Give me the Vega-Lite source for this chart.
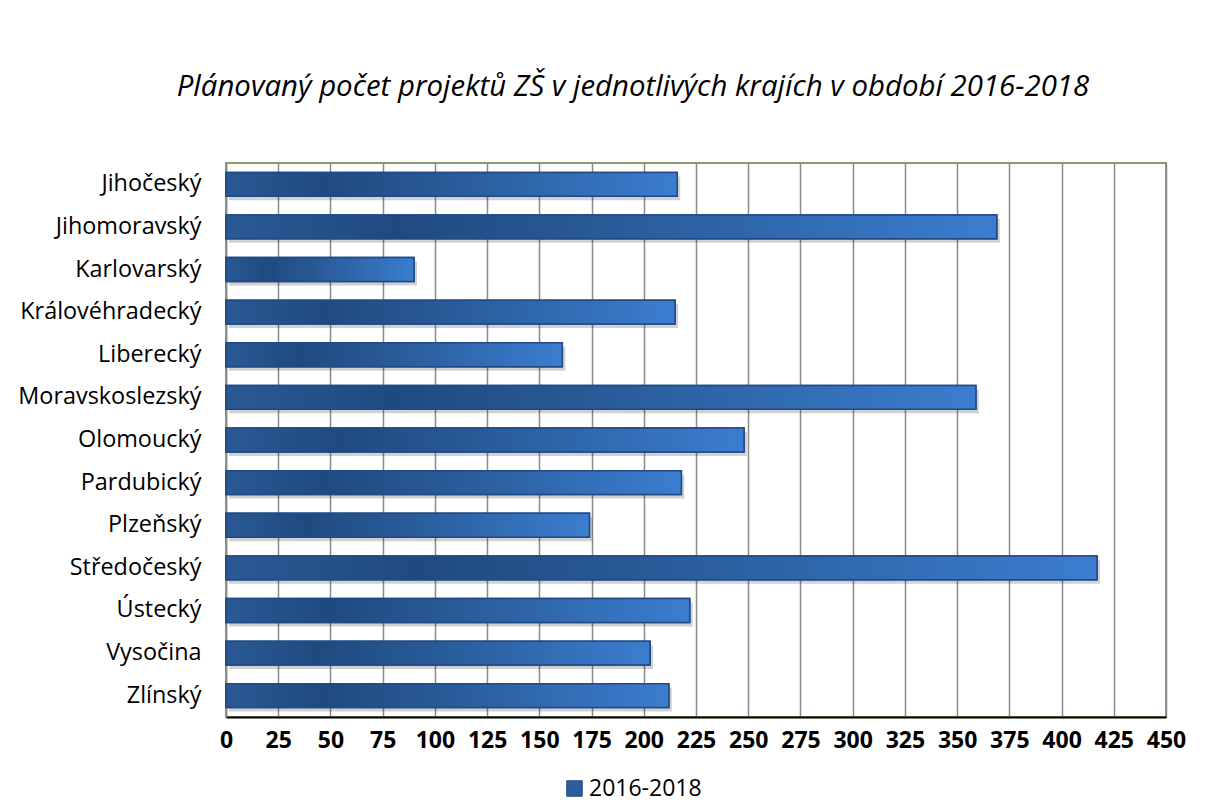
{
  "$schema": "https://vega.github.io/schema/vega-lite/v6.json",
  "autosize": "none",
  "width": 940,
  "height": 554,
  "padding": {"left": 226, "top": 163, "right": 42, "bottom": 85},
  "background": "white",
  "title": {
    "text": "Plánovaný počet projektů ZŠ v jednotlivých krajích v období 2016-2018",
    "font": "Open Sans",
    "fontStyle": "italic",
    "fontWeight": "normal",
    "fontSize": 29.4,
    "color": "#000000",
    "anchor": "middle",
    "dx": -63,
    "offset": 61
  },
  "data": {
    "values": [
      {"kraj": "Jihočeský", "pocet": 216, "obdobi": "2016-2018"},
      {"kraj": "Jihomoravský", "pocet": 369, "obdobi": "2016-2018"},
      {"kraj": "Karlovarský", "pocet": 90, "obdobi": "2016-2018"},
      {"kraj": "Královéhradecký", "pocet": 215, "obdobi": "2016-2018"},
      {"kraj": "Liberecký", "pocet": 161, "obdobi": "2016-2018"},
      {"kraj": "Moravskoslezský", "pocet": 359, "obdobi": "2016-2018"},
      {"kraj": "Olomoucký", "pocet": 248, "obdobi": "2016-2018"},
      {"kraj": "Pardubický", "pocet": 218, "obdobi": "2016-2018"},
      {"kraj": "Plzeňský", "pocet": 174, "obdobi": "2016-2018"},
      {"kraj": "Středočeský", "pocet": 417, "obdobi": "2016-2018"},
      {"kraj": "Ústecký", "pocet": 222, "obdobi": "2016-2018"},
      {"kraj": "Vysočina", "pocet": 203, "obdobi": "2016-2018"},
      {"kraj": "Zlínský", "pocet": 212, "obdobi": "2016-2018"}
    ]
  },
  "encoding": {
    "y": {
      "field": "kraj",
      "type": "nominal",
      "sort": null,
      "scale": {"paddingInner": 0.44, "paddingOuter": 0.22},
      "axis": {
        "title": null,
        "labelFont": "Open Sans",
        "labelFontSize": 23.4,
        "labelColor": "#000000",
        "labelPadding": 25,
        "labelLimit": 400,
        "ticks": false,
        "domainColor": "#8a8a8a",
        "domainWidth": 1.5,
        "grid": false
      }
    },
    "x": {
      "field": "pocet",
      "type": "quantitative",
      "scale": {"domain": [0, 450], "nice": false},
      "axis": {
        "title": null,
        "values": [0, 25, 50, 75, 100, 125, 150, 175, 200, 225, 250, 275, 300, 325, 350, 375, 400, 425, 450],
        "labelFont": "Open Sans",
        "labelFontWeight": "bold",
        "labelFontSize": 23,
        "labelColor": "#000000",
        "labelPadding": 12,
        "labelFlush": false,
        "labelOverlap": false,
        "ticks": false,
        "domainColor": "#000000",
        "domainWidth": 2,
        "grid": true,
        "gridColor": "#8a8a8a",
        "gridWidth": 1.5
      }
    }
  },
  "layer": [
    {
      "mark": {"type": "bar", "color": "#000000", "opacity": 0.18, "xOffset": 3, "yOffset": 4}
    },
    {
      "mark": {"type": "bar", "stroke": "#1f4a85", "strokeWidth": 1.5},
      "encoding": {
        "color": {
          "field": "obdobi",
          "type": "nominal",
          "scale": {"domain": ["2016-2018"], "range": ["#2c5d9c"]},
          "legend": {
            "title": null,
            "orient": "none",
            "legendX": 337,
            "legendY": 614,
            "symbolType": "square",
            "symbolSize": 240,
            "symbolOpacity": 1,
            "symbolStrokeColor": "#1f4a85",
            "symbolStrokeWidth": 1,
            "labelFont": "Open Sans",
            "labelFontSize": 23,
            "labelColor": "#000000",
            "labelOffset": 3
          }
        }
      }
    },
    {
      "mark": {
        "type": "bar",
        "stroke": "#1f4a85",
        "strokeWidth": 1.5,
        "opacity": 1,
        "color": {
          "gradient": "linear",
          "x1": 0, "y1": 0, "x2": 1, "y2": 0,
          "stops": [
            {"offset": 0, "color": "#2a5994"},
            {"offset": 0.22, "color": "#1f4a80"},
            {"offset": 0.5, "color": "#295b98"},
            {"offset": 1, "color": "#3b7dcf"}
          ]
        }
      }
    }
  ],
  "config": {
    "view": {"stroke": "#647a3a", "strokeWidth": 1.5}
  }
}
